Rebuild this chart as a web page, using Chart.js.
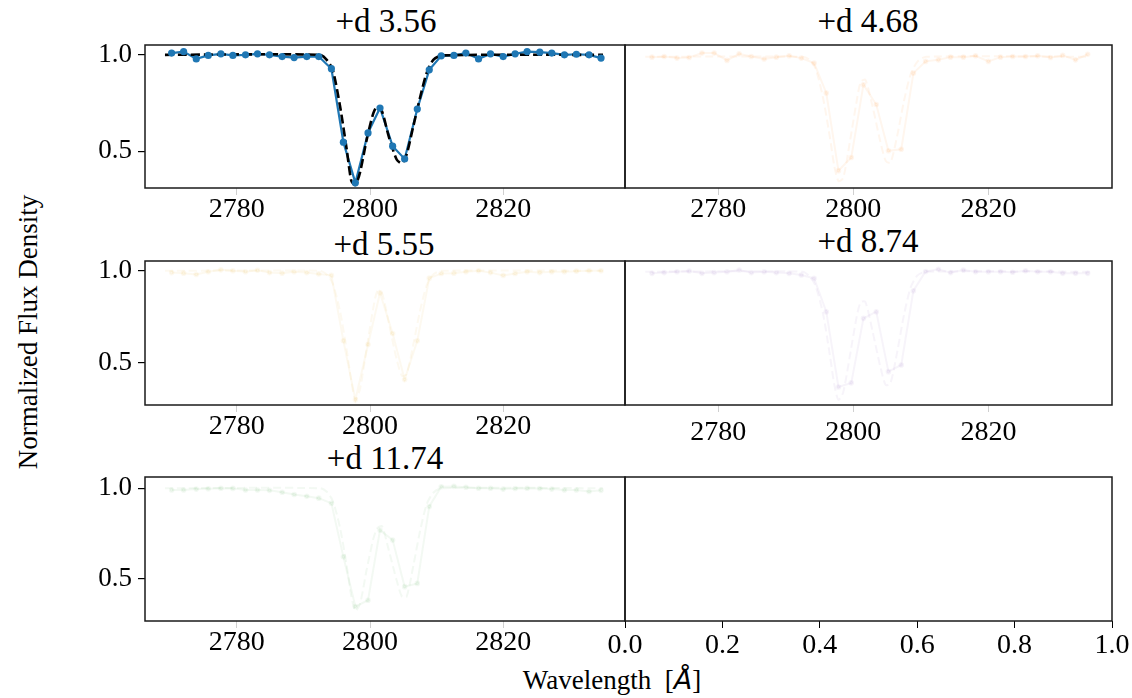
<!DOCTYPE html>
<html>
<head>
<meta charset="utf-8">
<script src="https://cdn.jsdelivr.net/npm/chart.js@4.4.1/dist/chart.umd.min.js"></script>
<style>
  html, body { margin:0; padding:0; background:#fff; }
  #fig { position:relative; width:1132px; height:698px; overflow:hidden; background:#fff; }
  canvas { position:absolute; }
  .txt { position:absolute; font-family:"Liberation Serif", "Times New Roman", serif; color:#000; white-space:nowrap; transform:translate(-50%,-50%); line-height:1; }
  .title { font-size:33px; }
  .lab { font-size:27px; }
</style>
</head>
<body>
<div id="fig">
  <div class="txt title" style="left:386px; top:21px;">+d 3.56</div>
  <div class="txt title" style="left:868px; top:21px;">+d 4.68</div>
  <div class="txt title" style="left:384px; top:244px;">+d 5.55</div>
  <div class="txt title" style="left:868px; top:241px;">+d 8.74</div>
  <div class="txt title" style="left:385px; top:458px;">+d 11.74</div>
  <div class="txt lab" style="left:612px; top:680px;">Wavelength&nbsp; [<span style="font-family:'DejaVu Sans'; font-style:italic;">Å</span>]</div>
  <div class="txt lab" style="left:28px; top:332px; transform:translate(-50%,-50%) rotate(-90deg);">Normalized Flux Density</div>
</div>
<script>
// ---------------- data ----------------
const wavelengths = [2770.2, 2772.0, 2773.9, 2775.7, 2777.6, 2779.4, 2781.3, 2783.1, 2784.9, 2786.8, 2788.6, 2790.5, 2792.3, 2794.2, 2796.0, 2797.8, 2799.7, 2801.5, 2803.4, 2805.2, 2807.1, 2808.9, 2810.7, 2812.6, 2814.4, 2816.3, 2818.1, 2820.0, 2821.8, 2823.6, 2825.5, 2827.3, 2829.2, 2831.0, 2832.9, 2834.7];

const flux_356  = [1.009, 1.017, 0.979, 0.997, 1.005, 0.997, 1.000, 1.005, 1.000, 0.991, 0.986, 0.991, 0.991, 0.928, 0.547, 0.336, 0.595, 0.724, 0.526, 0.460, 0.719, 0.922, 0.995, 0.997, 1.009, 0.979, 1.005, 0.991, 1.005, 1.017, 1.014, 1.009, 1.000, 1.003, 1.000, 0.983];
const flux_468  = [0.988, 0.991, 0.983, 0.986, 1.009, 1.009, 0.971, 1.005, 0.991, 0.978, 0.988, 0.995, 0.983, 0.957, 0.802, 0.399, 0.467, 0.845, 0.742, 0.502, 0.510, 0.905, 0.966, 0.974, 0.988, 0.988, 0.995, 0.966, 0.988, 0.991, 0.991, 0.995, 0.986, 0.997, 0.974, 1.003];
const flux_555  = [0.990, 0.987, 0.980, 0.995, 1.005, 1.000, 0.995, 1.003, 0.990, 0.987, 0.995, 0.990, 0.983, 0.975, 0.620, 0.300, 0.600, 0.880, 0.660, 0.410, 0.620, 0.960, 0.985, 0.987, 0.995, 1.000, 0.990, 0.975, 0.985, 0.995, 0.990, 0.995, 0.995, 0.998, 1.000, 1.000];
const flux_874  = [0.986, 0.990, 0.995, 0.999, 0.986, 0.990, 0.995, 1.004, 0.990, 0.995, 0.990, 0.986, 0.977, 0.959, 0.778, 0.370, 0.392, 0.742, 0.778, 0.453, 0.489, 0.892, 0.996, 1.008, 0.990, 1.004, 0.995, 0.995, 0.995, 0.992, 1.000, 0.995, 0.995, 0.986, 0.986, 0.986];
const flux_1174 = [0.990, 0.990, 0.995, 0.997, 1.000, 0.999, 0.990, 0.990, 0.988, 0.978, 0.965, 0.955, 0.945, 0.917, 0.620, 0.345, 0.380, 0.768, 0.713, 0.455, 0.473, 0.899, 1.008, 1.010, 1.005, 1.000, 1.000, 0.995, 0.998, 1.000, 0.998, 0.995, 0.990, 0.990, 0.982, 0.988];

const modelWave  = [2769.2, 2792.5, 2793.5, 2794.4, 2795.5, 2796.5, 2797.2, 2797.8, 2798.5, 2799.5, 2800.5, 2801.1, 2801.8, 2802.8, 2804.0, 2804.8, 2805.5, 2806.5, 2807.5, 2808.5, 2809.5, 2810.8, 2835.0];
const model_356  = [1.000, 1.000, 0.974, 0.922, 0.733, 0.509, 0.345, 0.325, 0.390, 0.560, 0.698, 0.733, 0.707, 0.578, 0.457, 0.437, 0.483, 0.629, 0.776, 0.905, 0.974, 0.997, 1.000];
const model_468  = [0.990, 0.990, 0.975, 0.930, 0.780, 0.580, 0.420, 0.345, 0.360, 0.550, 0.760, 0.860, 0.870, 0.740, 0.550, 0.450, 0.440, 0.580, 0.760, 0.900, 0.965, 0.990, 0.990];
const model_555  = [1.000, 1.000, 0.980, 0.930, 0.780, 0.570, 0.400, 0.300, 0.360, 0.580, 0.800, 0.890, 0.880, 0.720, 0.520, 0.430, 0.440, 0.600, 0.780, 0.920, 0.980, 1.000, 1.000];
const model_874  = [0.995, 0.995, 0.970, 0.920, 0.770, 0.550, 0.380, 0.300, 0.340, 0.540, 0.750, 0.830, 0.830, 0.680, 0.480, 0.380, 0.390, 0.560, 0.760, 0.910, 0.975, 0.995, 0.995];
const model_1174 = [1.000, 1.000, 0.980, 0.930, 0.780, 0.570, 0.400, 0.320, 0.360, 0.550, 0.720, 0.780, 0.790, 0.660, 0.490, 0.400, 0.400, 0.570, 0.760, 0.910, 0.975, 1.000, 1.000];

const xTicks  = [2780, 2800, 2820];
const yTicks  = [0.5, 1.0];
const brTicks = [0.0, 0.2, 0.4, 0.6, 0.8, 1.0];

// ---------------- drawing ----------------
const FONT = "'Liberation Serif', 'Times New Roman', serif";
const fig = document.getElementById('fig');

const boxPlugin = {
  id: 'box',
  afterDraw(chart) {
    const { ctx, chartArea: a } = chart;
    ctx.save();
    ctx.strokeStyle = '#1a1a1a';
    ctx.lineWidth = 1.5;
    ctx.strokeRect(a.left, a.top, a.right - a.left, a.bottom - a.top);
    ctx.restore();
  }
};

const pts = (xs, ys) => xs.map((x, i) => ({ x: x, y: ys[i] }));

function makePanel(box, opt) {
  const L = 130, T = 12, R = 30, B = 60;
  const c = document.createElement('canvas');
  c.width = box.w + L + R;
  c.height = box.h + T + B;
  c.style.left = (box.x - L) + 'px';
  c.style.top = (box.y - T) + 'px';
  c.style.width = c.width + 'px';
  c.style.height = c.height + 'px';
  fig.appendChild(c);

  const datasets = [];
  if (opt.flux) {
    if (opt.main) {
      datasets.push({ data: pts(wavelengths, opt.flux), showLine: false, pointRadius: 3.6, pointBackgroundColor: opt.color, pointBorderColor: opt.color, borderWidth: 0, order: 0 });
      datasets.push({ data: pts(modelWave, opt.model), borderColor: '#000', borderWidth: 2.6, borderDash: [9, 4], pointRadius: 0, order: 1, tension: 0.25 });
      datasets.push({ data: pts(wavelengths, opt.flux), borderColor: opt.color, borderWidth: 2.2, pointRadius: 0, order: 2 });
    } else {
      datasets.push({ data: pts(wavelengths, opt.flux), borderColor: opt.color, borderWidth: 2, pointRadius: 1.8, pointBackgroundColor: opt.color, pointBorderColor: opt.color, order: 0 });
      datasets.push({ data: pts(modelWave, opt.model), borderColor: opt.color, borderWidth: 2, borderDash: [8, 4], pointRadius: 0, order: 1, tension: 0.25 });
    }
  }

  const xt = opt.xTickVals;
  new Chart(c, {
    type: 'line',
    data: { datasets },
    options: {
      responsive: false,
      animation: false,
      events: [],
      layout: { padding: { top: T, right: R, left: 0, bottom: 0 } },
      plugins: { legend: { display: false }, tooltip: { enabled: false } },
      scales: {
        x: {
          type: 'linear',
          min: opt.xmin, max: opt.xmax,
          afterFit(s) { s.height = B; s.paddingLeft = 0; s.paddingRight = 0; },
          afterBuildTicks(s) { s.ticks = xt.map(v => ({ value: v })); },
          ticks: {
            font: { family: FONT, size: 28 }, color: '#000', padding: opt.xPad === undefined ? -2 : opt.xPad,
            maxRotation: 0, autoSkip: false,
            callback: v => opt.xFmt ? v.toFixed(1) : String(v)
          },
          grid: { drawOnChartArea: false, drawTicks: true, tickLength: 7, color: opt.xTickColor, lineWidth: 1 },
          border: { display: false }
        },
        y: {
          type: 'linear',
          min: opt.ymin, max: opt.ymax,
          afterFit(s) { s.width = L; s.paddingTop = 0; s.paddingBottom = 0; },
          afterBuildTicks(s) { s.ticks = yTicks.map(v => ({ value: v })); },
          ticks: {
            display: opt.yLabels,
            font: { family: FONT, size: 27 }, color: '#000', padding: 6,
            callback: v => v.toFixed(1)
          },
          grid: { drawOnChartArea: false, drawTicks: opt.yLabels, tickLength: 7, color: '#000', lineWidth: 1.2 },
          border: { display: false }
        }
      }
    },
    plugins: [boxPlugin]
  });
}

const XMIN = 2766.2, XMAX = 2838.3;
const GREY = '#d0d0d0';

makePanel({ x: 145, y: 45, w: 480, h: 143 }, { main: true, flux: flux_356, model: model_356, color: '#1f77b4', xmin: XMIN, xmax: XMAX, ymin: 0.309, ymax: 1.051, xTickVals: xTicks, yLabels: true, xTickColor: GREY });
makePanel({ x: 625, y: 45, w: 487, h: 143 }, { flux: flux_468, model: model_468, color: 'rgba(255,127,14,0.07)', xmin: XMIN, xmax: XMAX, ymin: 0.309, ymax: 1.051, xTickVals: xTicks, yLabels: false, xTickColor: GREY });
makePanel({ x: 145, y: 261, w: 480, h: 144 }, { flux: flux_555, model: model_555, color: 'rgba(225,175,40,0.07)', xmin: XMIN, xmax: XMAX, ymin: 0.272, ymax: 1.053, xTickVals: xTicks, yLabels: true, xTickColor: GREY });
makePanel({ x: 625, y: 261, w: 487, h: 144 }, { flux: flux_874, model: model_874, color: 'rgba(148,103,189,0.07)', xmin: XMIN, xmax: XMAX, ymin: 0.272, ymax: 1.053, xTickVals: xTicks, yLabels: false, xTickColor: GREY, xPad: 4 });
makePanel({ x: 145, y: 477, w: 480, h: 144 }, { flux: flux_1174, model: model_1174, color: 'rgba(44,160,44,0.06)', xmin: XMIN, xmax: XMAX, ymin: 0.265, ymax: 1.062, xTickVals: xTicks, yLabels: true, xTickColor: GREY });
makePanel({ x: 625, y: 477, w: 487, h: 144 }, { xmin: 0, xmax: 1, ymin: 0.265, ymax: 1.062, xTickVals: brTicks, xFmt: true, yLabels: false, xTickColor: '#000', xPad: 1 });
</script>
</body>
</html>
